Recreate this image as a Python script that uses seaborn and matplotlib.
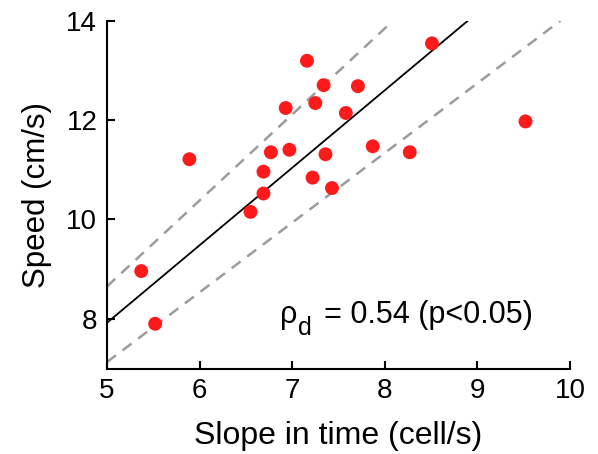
import matplotlib
matplotlib.use("Agg")
import matplotlib.pyplot as plt
import matplotlib.transforms as mtransforms
import seaborn as sns
import pandas as pd

slope_time = [5.37, 5.52, 5.89, 6.55, 6.69, 6.69, 6.77, 6.93, 6.97, 7.16, 7.22,
              7.25, 7.34, 7.36, 7.43, 7.58, 7.71, 7.87, 8.27, 8.51, 9.52]
speed = [8.96, 7.90, 11.21, 10.15, 10.52, 10.96, 11.35, 12.24, 11.40, 13.19, 10.84,
         12.34, 12.70, 11.31, 10.63, 12.14, 12.68, 11.47, 11.35, 13.54, 11.97]

fit_x = [5.0, 8.90]
fit_y = [7.92, 14.0]
upper_x = [5.0, 8.04]
upper_y = [8.65, 13.91]
lower_x = [5.0, 9.90]
lower_y = [7.13, 14.0]

x_ticks = [5, 6, 7, 8, 9, 10]
y_ticks = [8, 10, 12, 14]

sns.set_style("ticks")
plt.rcParams["font.family"] = ["Liberation Sans", "DejaVu Sans"]
for k in ["text.color", "axes.labelcolor", "xtick.color", "ytick.color", "axes.edgecolor"]:
    plt.rcParams[k] = "black"

df = pd.DataFrame({"x": slope_time, "y": speed})

fig = plt.figure(figsize=(5.98, 4.54), dpi=100)
ax = fig.add_axes([0.1789, 0.1883, 0.7742, 0.7665])

dash = (0, (4.5, 3.3))
sns.lineplot(x=upper_x, y=upper_y, ax=ax, color="#9c9c9c", lw=1.8,
             linestyle=dash, zorder=1)
sns.lineplot(x=lower_x, y=lower_y, ax=ax, color="#9c9c9c", lw=1.8,
             linestyle=dash, zorder=1)
sns.lineplot(x=fit_x, y=fit_y, ax=ax, color="black", lw=1.3, zorder=2)
sns.scatterplot(data=df, x="x", y="y", ax=ax, color="#fe1a1a", s=100,
                edgecolor="none", zorder=3)

ax.set_xlim(5, 10)
ax.set_ylim(7, 14)
ax.set_xticks(x_ticks)
ax.set_yticks(y_ticks)
ax.tick_params(direction="in", length=6, width=1.5, labelsize=20, pad=7)
for s in ["left", "bottom"]:
    ax.spines[s].set_linewidth(1.5)
sns.despine(ax=ax)
ax.set_xlabel("Slope in time (cell/s)", fontsize=23)
ax.set_ylabel("Speed (cm/s)", fontsize=22.5)
ax.xaxis.set_label_coords(0.5, -0.152)
ax.yaxis.set_label_coords(-0.119, 0.5)

# annotation: rho with large subscript d
ax_x, ax_y = 6.868, 7.91
ax.text(ax_x, ax_y, "ρ", fontsize=22, ha="left", va="baseline")
t_sub = mtransforms.offset_copy(ax.transData, fig=fig, x=12.8, y=-8.6, units="points")
ax.text(ax_x, ax_y, "d", fontsize=18, ha="left", va="baseline", transform=t_sub)
t_rest = mtransforms.offset_copy(ax.transData, fig=fig, x=31.5, y=0, units="points")
ax.text(ax_x, ax_y, "= 0.54 (p<0.05)", fontsize=22, ha="left", va="baseline",
        transform=t_rest)

fig.savefig("out.png", dpi=100)
